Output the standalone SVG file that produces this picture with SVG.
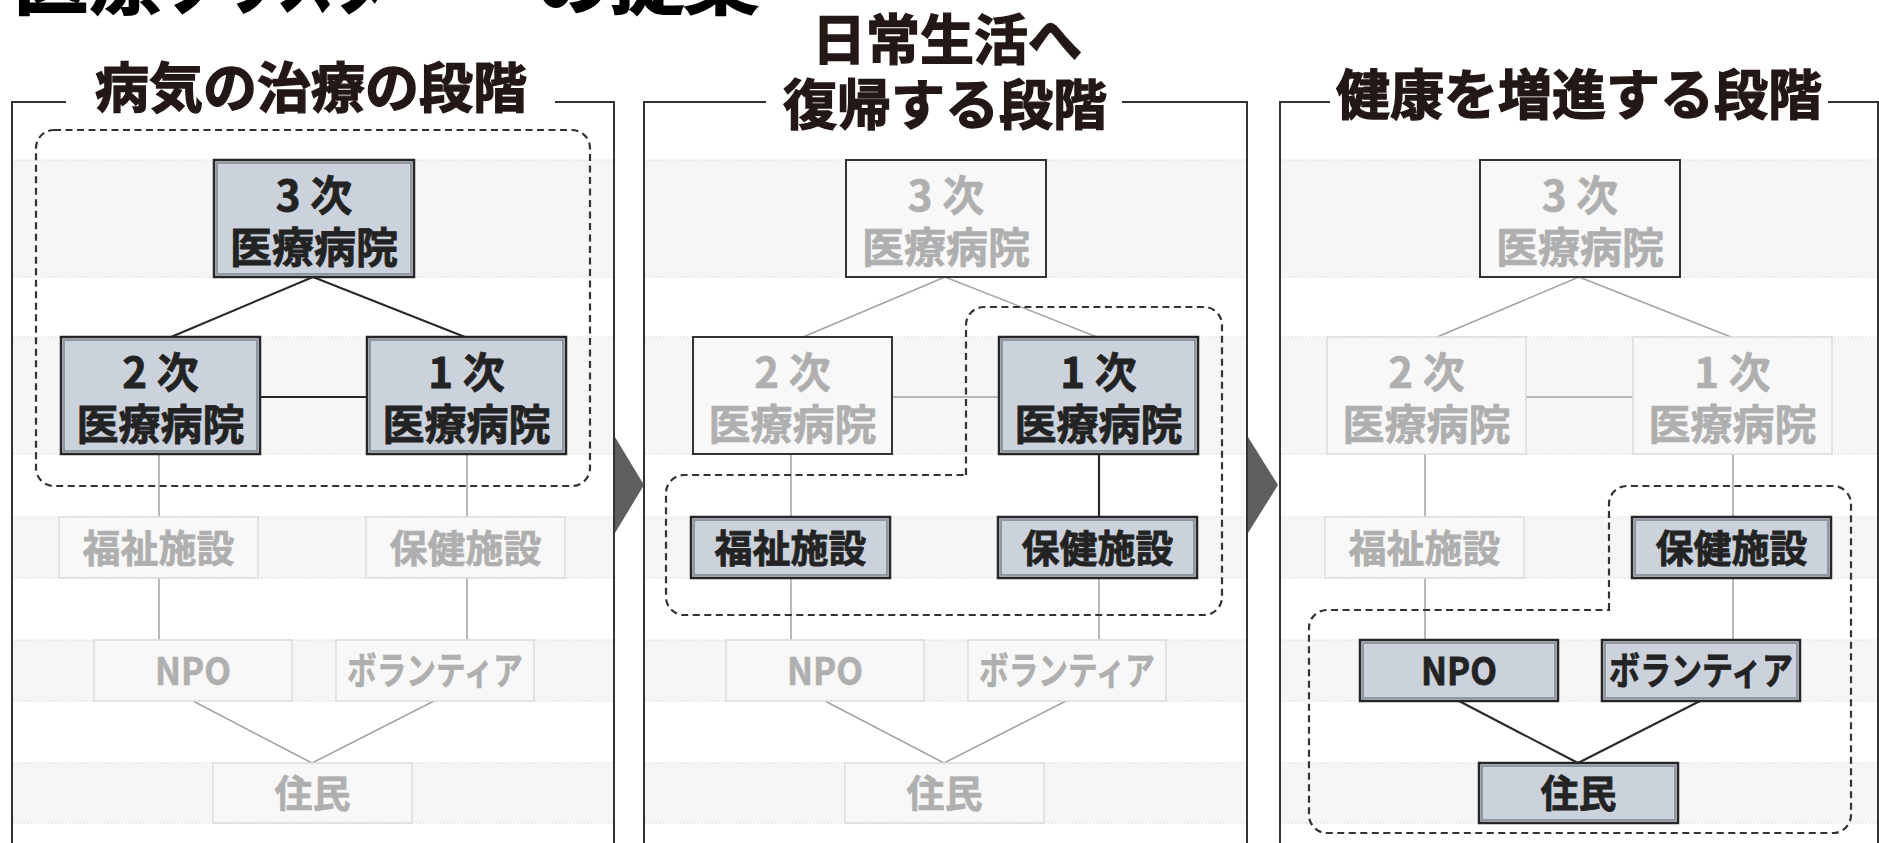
<svg xmlns="http://www.w3.org/2000/svg" width="1879" height="843" viewBox="0 0 1879 843">
<style>
text{font-family:"Noto Sans CJK JP","Noto Sans",sans-serif;font-weight:700;text-anchor:middle}
.band{fill:#f6f6f6}
.bl{stroke:#d6d6d6;stroke-width:1;stroke-dasharray:1.5 2;fill:none}
.frame{fill:none;stroke:#333;stroke-width:2}
.ttl{fill:#231815;stroke:#231815;stroke-width:1.4;font-size:54px}
.on .b{fill:#ccd2db;stroke:#262626;stroke-width:2.5}
.on .i{fill:none;stroke:#9197a0;stroke-width:2}
.on text{fill:#232323;stroke:#232323;stroke-width:0.8}
.off .b{fill:#f8f8f8;stroke:#dcdcdc;stroke-width:1.5}
.offd .b{fill:#f8f8f8;stroke:#333;stroke-width:2}
.off text,.offd text{fill:#afafaf;stroke:#afafaf;stroke-width:0.6}
.big{font-size:42px}
.sm{font-size:38px}
.c-on{stroke:#2a2a2a;stroke-width:2.2;fill:none}
.c-off{stroke:#a3a3a3;stroke-width:1.5;fill:none}
.dash{fill:none;stroke:#333;stroke-width:2.2;stroke-dasharray:7 4.5}
.arrow{fill:#5e5e5e}
.mt{fill:#000;stroke:#000;stroke-width:2;font-size:74px;text-anchor:start}
</style>
<rect width="1879" height="843" fill="#fff"/>

<!-- main title (cut off at top) -->
<g id="main-title">
<text class="mt" x="14" y="8">医療</text>
<text class="mt" x="166" y="8" textLength="280" lengthAdjust="spacingAndGlyphs">クラスター</text>
<text class="mt" x="536" y="8">の提案</text>
</g>

<!-- bands -->
<g id="bands">
<g class="band">
<rect x="13" y="160" width="600" height="117"/><rect x="13" y="337" width="600" height="117"/><rect x="13" y="517" width="600" height="61"/><rect x="13" y="640" width="600" height="61"/><rect x="13" y="763" width="600" height="60"/>
<rect x="645" y="160" width="601" height="117"/><rect x="645" y="337" width="601" height="117"/><rect x="645" y="517" width="601" height="61"/><rect x="645" y="640" width="601" height="61"/><rect x="645" y="763" width="601" height="60"/>
<rect x="1281" y="160" width="596" height="117"/><rect x="1281" y="337" width="596" height="117"/><rect x="1281" y="517" width="596" height="61"/><rect x="1281" y="640" width="596" height="61"/><rect x="1281" y="763" width="596" height="60"/>
</g>
<path class="bl" d="M13 160H613M13 277H613M13 337H613M13 454H613M13 517H613M13 578H613M13 640H613M13 701H613M13 763H613M13 823H613
M645 160H1246M645 277H1246M645 337H1246M645 454H1246M645 517H1246M645 578H1246M645 640H1246M645 701H1246M645 763H1246M645 823H1246
M1281 160H1877M1281 277H1877M1281 337H1877M1281 454H1877M1281 517H1877M1281 578H1877M1281 640H1877M1281 701H1877M1281 763H1877M1281 823H1877"/>
</g>

<!-- panel frames and titles -->
<g id="panel1-frame">
<path class="frame" d="M66 102H12V843M555 102H614V843"/>
<text class="ttl" x="311" y="108">病気の治療の段階</text>
</g>
<g id="panel2-frame">
<path class="frame" d="M766 102H644V843M1122 102H1247V843"/>
<text class="ttl" x="947" y="60">日常生活へ</text>
<text class="ttl" x="945" y="125">復帰する段階</text>
</g>
<g id="panel3-frame">
<path class="frame" d="M1330 102H1280V843M1828 102H1878V843"/>
<text class="ttl" x="1579" y="115">健康を増進する段階</text>
</g>

<!-- arrows between panels -->
<g id="arrows">
<polygon class="arrow" points="615,437 644,485 615,533"/>
<polygon class="arrow" points="1248,437 1278,485 1248,533"/>
</g>

<!-- connectors -->
<g id="connectors">
<path class="c-on" d="M313 277L171 337M313 277L465 337M260 397H367"/>
<path class="c-off" d="M159 454V517M159 578V640M467 454V517M467 578V640M193 701L312 763M434 701L312 763"/>
<path class="c-off" d="M945 277L803 337M945 277L1097 337M892 397H999M791 454V517M791 578V640M1099 578V640M825 701L944 763M1066 701L944 763"/>
<path class="c-on" d="M1099 454V517"/>
<path class="c-off" d="M1579 277L1437 337M1579 277L1731 337M1526 397H1633M1425 454V517M1425 578V640M1733 454V517M1733 578V640"/>
<path class="c-on" d="M1459 701L1578 763M1700 701L1578 763"/>
</g>

<!-- dashed groupings -->
<g id="groups">
<rect class="dash" x="36" y="130" width="554" height="356" rx="18" ry="18"/>
<path class="dash" d="M966 475V325A18 18 0 0 1 984 307H1204A18 18 0 0 1 1222 325V597A18 18 0 0 1 1204 615H684A18 18 0 0 1 666 597V493A18 18 0 0 1 684 475Z"/>
<path class="dash" d="M1609 610V504A18 18 0 0 1 1627 486H1833A18 18 0 0 1 1851 504V815A18 18 0 0 1 1833 833H1327A18 18 0 0 1 1309 815V628A18 18 0 0 1 1327 610Z"/>
</g>

<!-- PANEL 1 nodes -->
<g id="p1-tertiary" class="on"><rect class="b" x="214" y="160" width="200" height="117"/><rect class="i" x="217" y="163" width="194" height="111"/><text class="big" x="314" y="211">3 次</text><text class="big" x="314" y="263">医療病院</text></g>
<g id="p1-secondary" class="on"><rect class="b" x="61" y="337" width="199" height="117"/><rect class="i" x="64" y="340" width="193" height="111"/><text class="big" x="160.5" y="388">2 次</text><text class="big" x="160.5" y="440">医療病院</text></g>
<g id="p1-primary" class="on"><rect class="b" x="367" y="337" width="199" height="117"/><rect class="i" x="370" y="340" width="193" height="111"/><text class="big" x="466.5" y="388">1 次</text><text class="big" x="466.5" y="440">医療病院</text></g>
<g id="p1-welfare" class="off"><rect class="b" x="59" y="517" width="199" height="61"/><text class="sm" x="158.5" y="562">福祉施設</text></g>
<g id="p1-health" class="off"><rect class="b" x="366" y="517" width="199" height="61"/><text class="sm" x="465.5" y="562">保健施設</text></g>
<g id="p1-npo" class="off"><rect class="b" x="94" y="640" width="198" height="61"/><text class="sm" x="193" y="685" textLength="76" lengthAdjust="spacingAndGlyphs">NPO</text></g>
<g id="p1-volunteer" class="off"><rect class="b" x="336" y="640" width="198" height="61"/><text class="sm" x="435" y="684" textLength="176" lengthAdjust="spacingAndGlyphs">ボランティア</text></g>
<g id="p1-residents" class="off"><rect class="b" x="213" y="763" width="199" height="60"/><text class="sm" x="312.5" y="807">住民</text></g>

<!-- PANEL 2 nodes -->
<g id="p2-tertiary" class="offd"><rect class="b" x="846" y="160" width="200" height="117"/><text class="big" x="946" y="211">3 次</text><text class="big" x="946" y="263">医療病院</text></g>
<g id="p2-secondary" class="offd"><rect class="b" x="693" y="337" width="199" height="117"/><text class="big" x="792.5" y="388">2 次</text><text class="big" x="792.5" y="440">医療病院</text></g>
<g id="p2-primary" class="on"><rect class="b" x="999" y="337" width="199" height="117"/><rect class="i" x="1002" y="340" width="193" height="111"/><text class="big" x="1098.5" y="388">1 次</text><text class="big" x="1098.5" y="440">医療病院</text></g>
<g id="p2-welfare" class="on"><rect class="b" x="691" y="517" width="199" height="61"/><rect class="i" x="694" y="520" width="193" height="55"/><text class="sm" x="790.5" y="562">福祉施設</text></g>
<g id="p2-health" class="on"><rect class="b" x="998" y="517" width="199" height="61"/><rect class="i" x="1001" y="520" width="193" height="55"/><text class="sm" x="1097.5" y="562">保健施設</text></g>
<g id="p2-npo" class="off"><rect class="b" x="726" y="640" width="198" height="61"/><text class="sm" x="825" y="685" textLength="76" lengthAdjust="spacingAndGlyphs">NPO</text></g>
<g id="p2-volunteer" class="off"><rect class="b" x="968" y="640" width="198" height="61"/><text class="sm" x="1067" y="684" textLength="176" lengthAdjust="spacingAndGlyphs">ボランティア</text></g>
<g id="p2-residents" class="off"><rect class="b" x="845" y="763" width="199" height="60"/><text class="sm" x="944.5" y="807">住民</text></g>

<!-- PANEL 3 nodes -->
<g id="p3-tertiary" class="offd"><rect class="b" x="1480" y="160" width="200" height="117"/><text class="big" x="1580" y="211">3 次</text><text class="big" x="1580" y="263">医療病院</text></g>
<g id="p3-secondary" class="off"><rect class="b" x="1327" y="337" width="199" height="117"/><text class="big" x="1426.5" y="388">2 次</text><text class="big" x="1426.5" y="440">医療病院</text></g>
<g id="p3-primary" class="off"><rect class="b" x="1633" y="337" width="199" height="117"/><text class="big" x="1732.5" y="388">1 次</text><text class="big" x="1732.5" y="440">医療病院</text></g>
<g id="p3-welfare" class="off"><rect class="b" x="1325" y="517" width="199" height="61"/><text class="sm" x="1424.5" y="562">福祉施設</text></g>
<g id="p3-health" class="on"><rect class="b" x="1632" y="517" width="199" height="61"/><rect class="i" x="1635" y="520" width="193" height="55"/><text class="sm" x="1731.5" y="562">保健施設</text></g>
<g id="p3-npo" class="on"><rect class="b" x="1360" y="640" width="198" height="61"/><rect class="i" x="1363" y="643" width="192" height="55"/><text class="sm" x="1459" y="685" textLength="76" lengthAdjust="spacingAndGlyphs">NPO</text></g>
<g id="p3-volunteer" class="on"><rect class="b" x="1602" y="640" width="198" height="61"/><rect class="i" x="1605" y="643" width="192" height="55"/><text class="sm" x="1701" y="684" textLength="184" lengthAdjust="spacingAndGlyphs">ボランティア</text></g>
<g id="p3-residents" class="on"><rect class="b" x="1479" y="763" width="199" height="60"/><rect class="i" x="1482" y="766" width="193" height="54"/><text class="sm" x="1578.5" y="807">住民</text></g>
</svg>
